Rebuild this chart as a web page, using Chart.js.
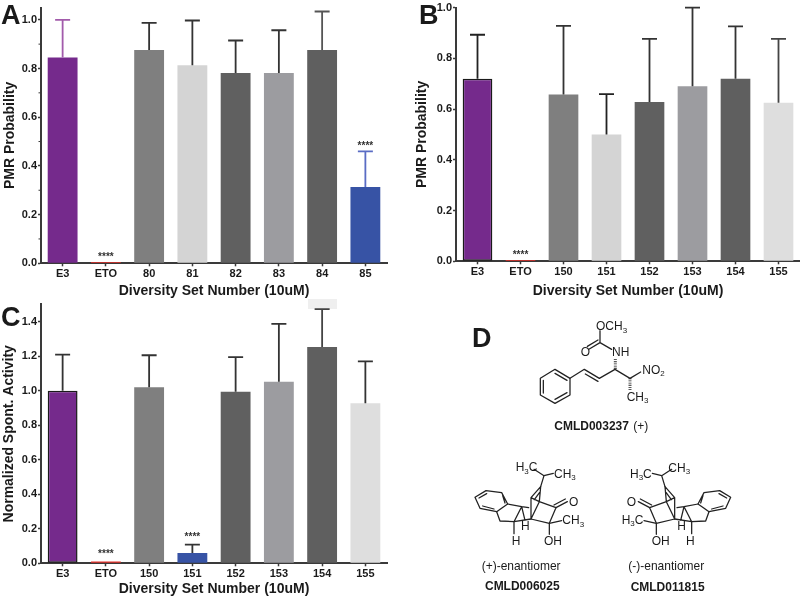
<!DOCTYPE html>
<html>
<head>
<meta charset="utf-8">
<title>PMR diversity set</title>
<script src="https://cdn.jsdelivr.net/npm/chart.js@4"></script>
<style>
  html, body { margin: 0; padding: 0; background: #fff; }
  #page { position: relative; width: 800px; height: 598px; overflow: hidden; }
  canvas, svg { position: absolute; }
  #chartA { left: 0; top: 0; }
  #chartB { left: 400px; top: 0; }
  #chartC { left: 0; top: 295px; }
  svg { left: 0; top: 0; font-family: "Liberation Sans", Arial, sans-serif; fill: #1a1a1a; }
  .bond { fill: none; stroke: #222; stroke-width: 3.8; stroke-linecap: round; stroke-linejoin: round; }
  .hash { fill: none; stroke: #222; stroke-width: 9; stroke-dasharray: 2.5 4; }
  .atom { font-size: 36px; }
  .atom tspan { font-size: 24px; }
</style>
</head>
<body>
<div id="page">
  <svg width="800" height="598">
    <rect x="308" y="299" width="29" height="10" fill="#efefef" stroke="none"></rect>
  </svg>
  <canvas id="chartA" width="400" height="300"></canvas>
  <canvas id="chartB" width="400" height="300"></canvas>
  <canvas id="chartC" width="420" height="303"></canvas>
  <svg width="800" height="598">
    <text x="1" y="24" font-size="27" font-weight="bold">A</text>
    <text x="419" y="24" font-size="27" font-weight="bold">B</text>
    <text x="1" y="326" font-size="27" font-weight="bold">C</text>
    <text x="472" y="347" font-size="27" font-weight="bold">D</text>

    <!-- CMLD003237 -->
    <g transform="translate(460 310) scale(.33333)">
      <path class="bond" d="M285 178L330 205V255L285 280L241 255V205ZM250 211V249M285 268L321 248M285 190L321 211"></path>
      <path class="bond" d="M330 205L373 178L418 205L465 178L510 205L542 186M376 192L414 214M420 98L455 118M420 98V62M420 98L388 117M414 90L382 109"></path>
      <path class="hash" d="M466 176V143M510 205V243"></path>
      <text class="atom" x="408" y="60">OCH<tspan dy="8">3</tspan></text>
      <text class="atom" x="362" y="138">O</text>
      <text class="atom" x="456" y="138">NH</text>
      <text class="atom" x="547" y="191">NO<tspan dy="8">2</tspan></text>
      <text class="atom" x="500" y="272">CH<tspan dy="8">3</tspan></text>
      <text x="283" y="361" font-size="36" font-weight="bold">CMLD003237</text>
      <text x="520" y="361" font-size="36">(+)</text>
    </g>

    <!-- the two enantiomers share the same bonds, one mirrored -->
    <defs>
      <g id="cage">
        <path class="bond" d="M15 127L48 107L95 113L113 147L80 170L30 160ZM27 129L50 116M98 122L105 144M72 162L38 153"></path>
        <path class="bond" d="M113 147L155 155M80 170L90 198L132 200L155 155M155 155L165 196M132 200L183 192M155 155L176 158"></path>
        <path class="bond" d="M183 128V192M183 128L212 95M193 134L209 112M212 95L208 140L183 128M208 140L258 158L238 205L183 192M208 140L183 192"></path>
        <path class="bond" d="M258 158L292 140M252 150L286 132M238 205L275 197M238 205V238M212 95L222 62L192 43M222 62L250 55M132 200V236"></path>
      </g>
    </defs>
    <use href="#cage" transform="translate(470 455) scale(.33333)"></use>
    <use href="#cage" transform="translate(735.67 455) scale(-.33333 .33333)"></use>

    <g transform="translate(460 445) scale(.33333)">
      <text class="atom" x="167" y="78">H<tspan dy="8">3</tspan><tspan dy="-8" style="font-size:36px">C</tspan></text>
      <text class="atom" x="282" y="98">CH<tspan dy="8">3</tspan></text>
      <text class="atom" x="327" y="184">O</text>
      <text class="atom" x="307" y="238">CH<tspan dy="8">3</tspan></text>
      <text class="atom" x="252" y="300">OH</text>
      <text class="atom" x="155" y="300">H</text>
      <text class="atom" x="183" y="254">H</text>
      <text x="65" y="375" font-size="36">(+)-enantiomer</text>
      <text x="75" y="435" font-size="36" font-weight="bold">CMLD006025</text>

      <text class="atom" x="510" y="98">H<tspan dy="8">3</tspan><tspan dy="-8" style="font-size:36px">C</tspan></text>
      <text class="atom" x="625" y="80">CH<tspan dy="8">3</tspan></text>
      <text class="atom" x="500" y="184">O</text>
      <text class="atom" x="485" y="236">H<tspan dy="8">3</tspan><tspan dy="-8" style="font-size:36px">C</tspan></text>
      <text class="atom" x="575" y="300">OH</text>
      <text class="atom" x="678" y="300">H</text>
      <text class="atom" x="652" y="254">H</text>
      <text x="505" y="375" font-size="36">(-)-enantiomer</text>
      <text x="512" y="438" font-size="36" font-weight="bold">CMLD011815</text>
    </g>
  </svg>
</div>

<script>
// panel A
const categoriesA = ['E3', 'ETO', '80', '81', '82', '83', '84', '85'];
const valuesA = [0.845, 0.005, 0.876, 0.813, 0.781, 0.781, 0.876, 0.313];
const upperA = [1.0, null, 0.987, 0.997, 0.915, 0.957, 1.034, 0.46];
const starsA = ['', '****', '', '', '', '', '', '****'];
const colorsA = ['#752a8c', '#e8312a', '#7f7f7f', '#d4d4d4', '#606060', '#9c9ca0', '#5f5f5f', '#3753a5'];
const errColorsA = ['#a25bab', '#333', '#333', '#333', '#333', '#333', '#555', '#5a6cc4'];
const borderWidthsA = [0, 0, 0, 0, 0, 0, 0, 0];
const minorTicksA = [0.1, 0.3, 0.5, 0.7, 0.9];

// panel B
const categoriesB = ['E3', 'ETO', '150', '151', '152', '153', '154', '155'];
const valuesB = [0.72, 0.005, 0.657, 0.5, 0.628, 0.69, 0.72, 0.625];
const upperB = [0.893, null, 0.928, 0.659, 0.877, 1.0, 0.926, 0.877];
const starsB = ['', '****', '', '', '', '', '', ''];
const colorsB = ['#752a8c', '#e8312a', '#7f7f7f', '#d4d4d4', '#606060', '#9c9ca0', '#5f5f5f', '#dedede'];
const errColorsB = ['#222', '#333', '#333', '#222', '#333', '#333', '#333', '#444'];
const borderWidthsB = [1.5, 0, 0, 0, 0, 0, 0, 0];

// panel C
const categoriesC = ['E3', 'ETO', '150', '151', '152', '153', '154', '155'];
const valuesC = [1.0, 0.01, 1.02, 0.06, 0.993, 1.051, 1.252, 0.927];
const upperC = [1.209, null, 1.205, 0.108, 1.194, 1.387, 1.472, 1.169];
const starsC = ['', '****', '', '****', '', '', '', ''];
const colorsC = ['#752a8c', '#e8312a', '#7f7f7f', '#3753a5', '#606060', '#9c9ca0', '#5f5f5f', '#dedede'];
const errColorsC = ['#333', '#333', '#333', '#333', '#333', '#333', '#444', '#333'];
const borderWidthsC = [1.5, 0, 0, 0, 0, 0, 0, 0];

const FONT = '"Liberation Sans", Arial, sans-serif';
const AXIS_COLOR = '#3a3a3a';
const TEXT_COLOR = '#1a1a1a';

// error bars, stars and minor ticks, all placed through the chart's scales
const extrasPlugin = {
  id: 'extras',
  afterDatasetsDraw(chart, args, opts) {
    const ctx = chart.ctx;
    const y = chart.scales.y;
    const bars = chart.getDatasetMeta(0).data;
    ctx.save();
    bars.forEach((bar, i) => {
      if (opts.upper[i] != null) {
        const top = y.getPixelForValue(opts.upper[i]);
        ctx.strokeStyle = opts.errColors[i];
        ctx.lineWidth = 1.8;
        ctx.beginPath();
        ctx.moveTo(bar.x, bar.y);
        ctx.lineTo(bar.x, top);
        ctx.moveTo(bar.x - 7.5, top);
        ctx.lineTo(bar.x + 7.5, top);
        ctx.stroke();
      }
      if (opts.stars[i]) {
        const ref = opts.upper[i] != null ? y.getPixelForValue(opts.upper[i]) : bar.y;
        ctx.fillStyle = '#333';
        ctx.font = 'bold 10px ' + FONT;
        ctx.textAlign = 'center';
        ctx.textBaseline = 'alphabetic';
        ctx.fillText(opts.stars[i], bar.x, ref - opts.starOffset + 6);
      }
    });
    ctx.strokeStyle = AXIS_COLOR;
    ctx.lineWidth = 1;
    (opts.minor || []).forEach(v => {
      const py = y.getPixelForValue(v);
      ctx.beginPath();
      ctx.moveTo(y.right - 2.5, py);
      ctx.lineTo(y.right, py);
      ctx.stroke();
    });
    ctx.restore();
  }
};

function makeChart(id, cfg) {
  const canvas = document.getElementById(id);
  return new Chart(canvas, {
    type: 'bar',
    data: {
      labels: cfg.labels,
      datasets: [{
        data: cfg.values,
        backgroundColor: cfg.colors,
        borderColor: '#1a1a1a',
        borderWidth: cfg.borderWidths,
        borderSkipped: false,
        categoryPercentage: 1,
        barPercentage: 0.69
      }]
    },
    options: {
      responsive: false,
      animation: false,
      layout: { padding: { top: cfg.top, right: canvas.width - cfg.right, left: 0, bottom: 0 } },
      plugins: {
        legend: { display: false },
        tooltip: { enabled: false },
        extras: { upper: cfg.upper, stars: cfg.stars, errColors: cfg.errColors, starOffset: cfg.starOffset, minor: cfg.minor }
      },
      scales: {
        x: {
          afterFit(scale) { scale.height = canvas.height - cfg.bottom; },
          grid: { drawOnChartArea: false, offset: false, tickLength: 3, tickColor: AXIS_COLOR, tickWidth: 1.5 },
          border: { color: AXIS_COLOR, width: 2 },
          ticks: { color: TEXT_COLOR, padding: 1.5, maxRotation: 0, autoSkip: false, font: { family: FONT, size: 11, weight: 'bold' } },
          title: { display: true, text: 'Diversity Set Number (10uM)', color: TEXT_COLOR, padding: { top: cfg.xTitlePad, bottom: 0 }, font: { family: FONT, size: 14, weight: 'bold' } }
        },
        y: {
          min: 0,
          max: cfg.max,
          afterFit(scale) { scale.width = cfg.left; },
          grid: { drawOnChartArea: false, tickLength: 3, tickColor: AXIS_COLOR, tickWidth: 1.5 },
          border: { color: AXIS_COLOR, width: 2 },
          ticks: {
            stepSize: 0.2,
            includeBounds: false,
            padding: 1,
            color: TEXT_COLOR,
            font: { family: FONT, size: 11, weight: 'bold' },
            callback: v => v.toFixed(1)
          },
          title: { display: true, text: cfg.yTitle, color: TEXT_COLOR, padding: { top: cfg.yTitlePad, bottom: 0 }, font: { family: FONT, size: 14, weight: 'bold' } }
        }
      }
    },
    plugins: [extrasPlugin]
  });
}

makeChart('chartA', {
  labels: categoriesA, values: valuesA, upper: upperA, stars: starsA, colors: colorsA,
  errColors: errColorsA, borderWidths: borderWidthsA, minor: minorTicksA,
  left: 41, right: 387, top: 4, bottom: 263.3, max: 1.05,
  yTitle: 'PMR Probability', yTitlePad: 1.5, xTitlePad: 7.6, starOffset: 8.5
});

makeChart('chartB', {
  labels: categoriesB, values: valuesB, upper: upperB, stars: starsB, colors: colorsB,
  errColors: errColorsB, borderWidths: borderWidthsB,
  left: 56, right: 400, top: 4.3, bottom: 261.3, max: 1.0,
  yTitle: 'PMR Probability', yTitlePad: 13.8, xTitlePad: 6.3, starOffset: 8
});

makeChart('chartC', {
  labels: categoriesC, values: valuesC, upper: upperC, stars: starsC, colors: colorsC,
  errColors: errColorsC, borderWidths: borderWidthsC,
  left: 41, right: 387, top: 9.3, bottom: 268.3, max: 1.5,
  yTitle: 'Normalized Spont. Activity', yTitlePad: 0.5, xTitlePad: -2, starOffset: 11
});
</script>
</body>
</html>
